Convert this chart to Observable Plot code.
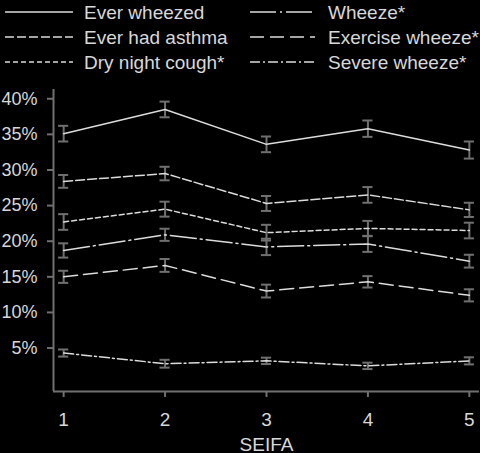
<!DOCTYPE html>
<html>
<head>
<meta charset="utf-8">
<script src="https://cdn.jsdelivr.net/npm/d3@7"></script>
<script src="https://cdn.jsdelivr.net/npm/@observablehq/plot@0.6"></script>
<style>
  html, body { margin: 0; padding: 0; background: #000; }
  #wrap { width: 480px; height: 453px; background: #000; overflow: hidden; }
  svg { display: block; }
</style>
</head>
<body>
<div id="wrap"></div>
<script>
const seifa = [1, 2, 3, 4, 5];
const seriesNames = ["Ever wheezed", "Ever had asthma", "Dry night cough*", "Wheeze*", "Exercise wheeze*", "Severe wheeze*"];
const everWheezed   = [35.1, 38.5, 33.6, 35.8, 32.8];
const everAsthma    = [28.4, 29.5, 25.3, 26.5, 24.4];
const dryCough      = [22.7, 24.5, 21.2, 21.8, 21.5];
const wheeze        = [18.7, 20.9, 19.2, 19.6, 17.2];
const exerciseWheeze= [15.0, 16.6, 13.0, 14.3, 12.4];
const severeWheeze  = [4.3, 2.8, 3.2, 2.5, 3.2];
const errWheezed  = [1.1, 1.1, 1.1, 1.15, 1.2];
const errAsthma   = [0.9, 0.95, 1.05, 1.1, 1.0];
const errCough    = [1.1, 1.05, 1.1, 1.05, 1.1];
const errWheeze   = [1.0, 0.85, 1.15, 1.1, 0.9];
const errExercise = [0.85, 0.9, 0.9, 0.8, 0.85];
const errSevere   = [0.5, 0.55, 0.45, 0.45, 0.5];
const yTicks = [5, 10, 15, 20, 25, 30, 35, 40];

const values = [everWheezed, everAsthma, dryCough, wheeze, exerciseWheeze, severeWheeze];
const errors = [errWheezed, errAsthma, errCough, errWheeze, errExercise, errSevere];
const dashes = ["none", "9,3", "5,3", "26,4,2,4", "14,6", "10,3,2,3"];

const rows = [];
seriesNames.forEach((name, i) => {
  seifa.forEach((s, j) => {
    rows.push({series: name, x: s, y: values[i][j], lo: values[i][j] - errors[i][j], hi: values[i][j] + errors[i][j], dash: dashes[i]});
  });
});

const FONT = "Liberation Sans, Arial, sans-serif";
const TXT = "#d8d8d8";
const LINE = "#dcdcdc";
const GREY = "#707070";

// Legend (SVG above the plot)
const legendH = 75;
const leg = d3.create("svg").attr("width", 480).attr("height", legendH)
  .style("background", "#000");
const cols = [{lx0: 5, lx1: 73, tx: 84}, {lx0: 250, lx1: 315, tx: 328}];
const order = [[0, 1, 2], [3, 4, 5]];
const rowY = [12, 37, 62];
order.forEach((col, c) => {
  col.forEach((si, r) => {
    leg.append("line")
      .attr("x1", cols[c].lx0).attr("x2", cols[c].lx1)
      .attr("y1", rowY[r]).attr("y2", rowY[r])
      .attr("stroke", LINE).attr("stroke-width", 1.5)
      .attr("stroke-dasharray", dashes[si]);
    leg.append("text")
      .attr("x", cols[c].tx).attr("y", rowY[r])
      .attr("dy", "0.36em")
      .attr("fill", TXT)
      .attr("font-family", FONT)
      .attr("font-size", 19)
      .text(seriesNames[si]);
  });
});
document.getElementById("wrap").append(leg.node());

const chart = Plot.plot({
  width: 480,
  height: 378,
  marginLeft: 53,
  marginRight: 1,
  marginTop: 14,
  marginBottom: 62,
  style: {background: "#000", color: TXT, fontFamily: FONT, fontSize: "18px"},
  x: {domain: [0.9, 5.1], ticks: seifa, tickFormat: d3.format("d")},
  y: {domain: [-1.1, 41.3], ticks: yTicks, tickFormat: d => d + "%"},
  marks: [
    Plot.axisY({ticks: yTicks, tickFormat: d => d + "%", tickSize: 6, tickPadding: 10, label: null, stroke: GREY, strokeWidth: 2, fill: TXT, fontSize: 18}),
    Plot.axisX({ticks: seifa, tickFormat: d3.format("d"), tickSize: 6, tickPadding: 15, label: "SEIFA", labelAnchor: "center", labelArrow: "none", labelOffset: 59, stroke: GREY, strokeWidth: 2, fill: TXT, fontSize: 19}),
    Plot.ruleX([0.9], {stroke: GREY, strokeWidth: 2}),
    Plot.ruleY([-1.1], {stroke: GREY, strokeWidth: 2}),
    Plot.ruleX(rows, {x: "x", y1: "lo", y2: "hi", stroke: GREY, strokeWidth: 2}),
    Plot.ruleY(rows, {y: "lo", x1: d => d.x - 0.05, x2: d => d.x + 0.05, stroke: GREY, strokeWidth: 2}),
    Plot.ruleY(rows, {y: "hi", x1: d => d.x - 0.05, x2: d => d.x + 0.05, stroke: GREY, strokeWidth: 2}),
    ...seriesNames.map((name, i) =>
      Plot.line(rows.filter(d => d.series === name), {x: "x", y: "y", stroke: LINE, strokeWidth: 1.5, strokeDasharray: dashes[i]})
    )
  ]
});
document.getElementById("wrap").append(chart);
</script>
</body>
</html>
